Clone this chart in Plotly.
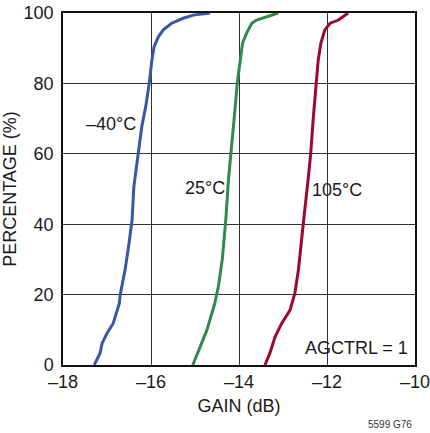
import plotly.graph_objects as go

# Data (gain in dB vs cumulative percentage)
pct_m40 = [0, 1.4, 3.3, 6.2, 9, 11.8, 15.6, 17.5, 20, 27, 33.6, 41.2, 50.6, 60.1, 67.7, 73.4, 80, 86.6, 90.4, 93.3, 95.2, 97.1, 98.5, 99.4, 100]
gain_m40 = [-17.29, -17.23, -17.16, -17.11, -17.0, -16.86, -16.77, -16.72, -16.70, -16.59, -16.51, -16.43, -16.39, -16.29, -16.21, -16.12, -16.04, -15.98, -15.93, -15.83, -15.72, -15.53, -15.27, -15.04, -14.66]

pct_25 = [0, 3.3, 9.9, 17.5, 22.2, 30, 41.2, 52.6, 60.1, 70, 80, 86.6, 91.4, 94.2, 97.1, 98, 99, 100]
gain_25 = [-15.05, -14.94, -14.73, -14.55, -14.47, -14.38, -14.30, -14.24, -14.19, -14.11, -14.04, -13.98, -13.92, -13.83, -13.71, -13.60, -13.33, -13.11]

pct_105 = [0, 3.3, 8, 11.8, 15.6, 20.4, 27, 36.4, 41.2, 52.6, 60.1, 70.5, 80, 86.6, 91.4, 95.2, 97.1, 98, 99, 100]
gain_105 = [-13.41, -13.30, -13.18, -13.03, -12.84, -12.73, -12.65, -12.58, -12.53, -12.43, -12.37, -12.31, -12.25, -12.20, -12.14, -12.05, -11.93, -11.74, -11.63, -11.52]

x_ticks = [-18, -16, -14, -12, -10]
x_tick_labels = ["–18", "–16", "–14", "–12", "–10"]
y_ticks = [0, 20, 40, 60, 80, 100]

series = [
    ("–40°C", gain_m40, pct_m40, "#3a56a8"),
    ("25°C", gain_25, pct_25, "#2f8a4c"),
    ("105°C", gain_105, pct_105, "#9b0a2e"),
]

FONT = "Liberation Sans Narrow, Arial Narrow, Liberation Sans, Arial, sans-serif"
FS = 18

fig = go.Figure()
for name, x, y, c in series:
    fig.add_trace(go.Scatter(x=x, y=y, mode="lines", name=name,
                             line=dict(color=c, width=3), showlegend=False))

labels = [
    ("–40°C", -16.91, 68.5),
    ("25°C", -14.77, 50.3),
    ("105°C", -11.77, 49.7),
    ("AGCTRL = 1", -11.34, 4.8),
]
for t, x, y in labels:
    fig.add_annotation(x=x, y=y, text=t, showarrow=False,
                       font=dict(size=FS, color="#1a1a1a", family=FONT))

fig.add_annotation(xref="paper", yref="paper", x=0.997, y=-0.17, text="5599 G76",
                   showarrow=False, xanchor="right", yanchor="middle",
                   font=dict(size=10, color="#333", family=FONT))

fig.update_xaxes(range=[-18, -10], tickvals=x_ticks, ticktext=x_tick_labels,
                 showgrid=True, gridcolor="#333", gridwidth=1,
                 showline=True, linecolor="#111", linewidth=1.5, mirror=True,
                 ticks="", zeroline=False, automargin=False, ticklabeloverflow="allow",
                 tickfont=dict(size=FS, color="#1a1a1a", family=FONT),
                 title=dict(text="GAIN (dB)", font=dict(size=FS, color="#1a1a1a", family=FONT), standoff=8))
fig.update_yaxes(range=[0, 100], tickvals=y_ticks,
                 showgrid=True, gridcolor="#333", gridwidth=1,
                 showline=True, linecolor="#111", linewidth=1.5, mirror=True,
                 ticks="", zeroline=False, ticklabelstandoff=4, automargin=False,
                 ticklabeloverflow="allow",
                 tickfont=dict(size=FS, color="#1a1a1a", family=FONT),
                 title=dict(text="PERCENTAGE (%)", font=dict(size=FS, color="#1a1a1a", family=FONT), standoff=6))

fig.update_layout(width=430, height=433, margin=dict(l=63, r=15, t=13, b=68),
                  plot_bgcolor="white", paper_bgcolor="white")

fig.write_html("out.html", config={"displayModeBar": False},
               post_script="document.body.style.margin='0';document.body.style.overflow='hidden';")
